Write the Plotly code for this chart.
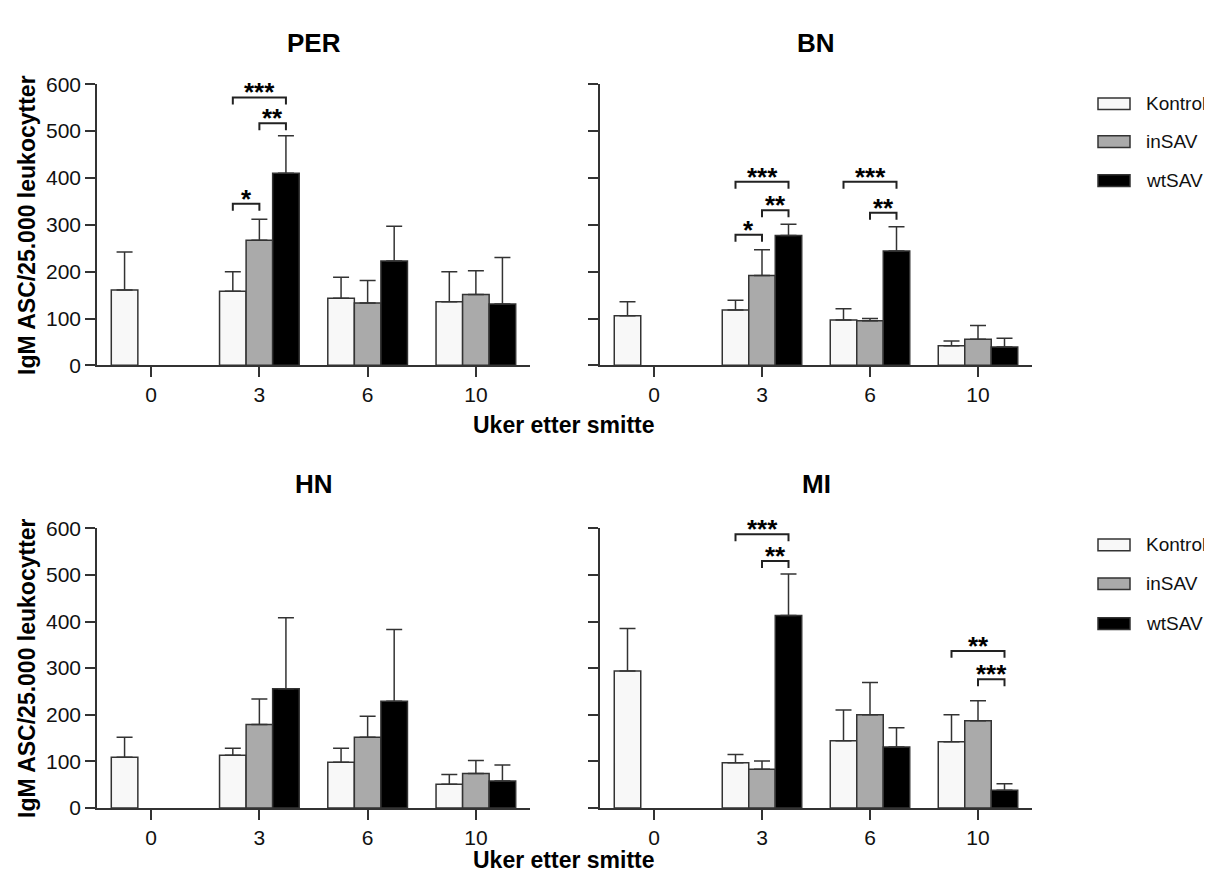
import plotly.graph_objects as go
from plotly.subplots import make_subplots

weeks = ["0", "3", "6", "10"]
groups = ["Kontroll", "inSAV", "wtSAV"]

PER_kontroll = [161, 158, 143, 136]
PER_kontroll_sem = [81, 42, 45, 64]
PER_insav = [None, 267, 133, 151]
PER_insav_sem = [None, 45, 48, 51]
PER_wtsav = [None, 410, 223, 131]
PER_wtsav_sem = [None, 80, 74, 99]

BN_kontroll = [106, 118, 97, 42]
BN_kontroll_sem = [30, 21, 24, 10]
BN_insav = [None, 192, 95, 56]
BN_insav_sem = [None, 55, 5, 29]
BN_wtsav = [None, 277, 244, 39]
BN_wtsav_sem = [None, 24, 52, 19]

HN_kontroll = [109, 113, 98, 51]
HN_kontroll_sem = [43, 15, 30, 21]
HN_insav = [None, 179, 152, 74]
HN_insav_sem = [None, 55, 45, 28]
HN_wtsav = [None, 256, 229, 58]
HN_wtsav_sem = [None, 152, 154, 34]

MI_kontroll = [294, 97, 144, 142]
MI_kontroll_sem = [91, 18, 66, 58]
MI_insav = [None, 83, 200, 187]
MI_insav_sem = [None, 18, 69, 43]
MI_wtsav = [None, 413, 131, 38]
MI_wtsav_sem = [None, 89, 41, 14]

# significance brackets: (week index, from group, to group, y level, label)
PER_sig = [(1, 0, 2, 572, "***"), (1, 1, 2, 517, "**"), (1, 0, 1, 345, "*")]
BN_sig = [(1, 0, 2, 392, "***"), (1, 1, 2, 331, "**"), (1, 0, 1, 279, "*"),
          (2, 0, 2, 392, "***"), (2, 1, 2, 326, "**")]
HN_sig = []
MI_sig = [(1, 0, 2, 587, "***"), (1, 1, 2, 530, "**"),
          (3, 0, 2, 337, "**"), (3, 1, 2, 276, "***")]

panels = [
    ("PER", 1, 1, [PER_kontroll, PER_insav, PER_wtsav],
     [PER_kontroll_sem, PER_insav_sem, PER_wtsav_sem], PER_sig),
    ("BN", 1, 2, [BN_kontroll, BN_insav, BN_wtsav],
     [BN_kontroll_sem, BN_insav_sem, BN_wtsav_sem], BN_sig),
    ("HN", 2, 1, [HN_kontroll, HN_insav, HN_wtsav],
     [HN_kontroll_sem, HN_insav_sem, HN_wtsav_sem], HN_sig),
    ("MI", 2, 2, [MI_kontroll, MI_insav, MI_wtsav],
     [MI_kontroll_sem, MI_insav_sem, MI_wtsav_sem], MI_sig),
]

fills = ["#F8F8F8", "#AAAAAA", "#000000"]
edge = "#333333"
FONT = "Arial, Liberation Sans, Helvetica, sans-serif"

# page body has an 8px margin: lay out in page pixels, offset by 8
OFF = 8
W, H = 1212 - OFF, 882 - OFF


def px(X):
    return (X - OFF) / W


def py(Y):
    return 1 - (Y - OFF) / H


bargap = 0.264
bw = (1 - bargap) / 3

fig = make_subplots(rows=2, cols=2)

xdom = {1: [px(97), px(530)], 2: [px(600), px(1032)]}
ydom = {1: [py(362.7), py(74)], 2: [py(817.3), py(530)]}
xcent = {1: (97 + 530) / 2, 2: (600 + 1032) / 2}

annotations = []
shapes = []
for name, r, c, vals, sems, sig in panels:
    for g in range(3):
        fig.add_trace(go.Bar(
            x=weeks, y=vals[g], name=groups[g], showlegend=False,
            marker=dict(color=fills[g], line=dict(color=edge, width=1.5)),
            error_y=dict(type="data", symmetric=False, array=sems[g],
                         arrayminus=[0 if v is not None else None for v in sems[g]],
                         color=edge, thickness=1.5, width=8),
        ), row=r, col=c)
    idx = (r - 1) * 2 + c
    xa = "x" if idx == 1 else f"x{idx}"
    ya = "y" if idx == 1 else f"y{idx}"
    annotations.append(dict(
        text=f"<b>{name}</b>", xref="paper", yref="paper",
        x=px(xcent[c]), y=py(32 if r == 1 else 485),
        xanchor="center", yanchor="middle", showarrow=False,
        font=dict(family=FONT, size=26, color="#000")))
    for (wk, g1, g2, yl, lab) in sig:
        x1 = wk + (g1 - 1) * bw
        x2 = wk + (g2 - 1) * bw
        leg = 15
        shapes.append(dict(type="path", xref=xa, yref=ya,
                           path=f"M {x1},{yl-leg} L {x1},{yl} L {x2},{yl} L {x2},{yl-leg}",
                           line=dict(color="#222", width=2)))
        annotations.append(dict(
            text=f"<b>{lab}</b>", xref=xa, yref=ya, x=(x1 + x2) / 2, y=yl,
            xanchor="center", yanchor="middle", yshift=5, showarrow=False,
            font=dict(family=FONT, size=26, color="#000")))

for r in (1, 2):
    for c in (1, 2):
        fig.update_xaxes(
            type="category", range=[-0.5, 3.5], domain=xdom[c],
            showline=True, linecolor=edge, linewidth=1.5,
            ticks="outside", ticklen=10, tickwidth=1.5, tickcolor=edge,
            showgrid=False, zeroline=False,
            tickfont=dict(family=FONT, size=21, color="#111"),
            row=r, col=c)
        fig.update_yaxes(
            range=[0, 600], dtick=100, domain=ydom[r],
            showline=True, linecolor=edge, linewidth=1.5,
            ticks="outside", ticklen=10, tickwidth=1.5, tickcolor=edge,
            showgrid=False, zeroline=False, showticklabels=(c == 1),
            tickfont=dict(family=FONT, size=21, color="#111"),
            row=r, col=c)

# axis titles
for yc, xt in ((218.5, 424), (673.5, 871)):
    annotations.append(dict(
        text="<b>IgM ASC/25.000 leukocytter</b>", xref="paper", yref="paper",
        x=px(27), y=py(yc), textangle=-90, xanchor="center", yanchor="middle",
        showarrow=False, font=dict(family=FONT, size=23, color="#000")))
    annotations.append(dict(
        text="<b>Uker etter smitte</b>", xref="paper", yref="paper",
        x=px(564), y=py(xt), xanchor="center", yanchor="middle",
        showarrow=False, font=dict(family=FONT, size=23, color="#000")))

# legends (drawn manually)
for ys in ((94, 133, 173), (547, 587, 628)):
    for g in range(3):
        yc = ys[g]
        shapes.append(dict(type="rect", xref="paper", yref="paper",
                           x0=px(1098), x1=px(1130), y0=py(yc + 6), y1=py(yc - 6),
                           fillcolor=fills[g], line=dict(color=edge, width=1.5)))
        annotations.append(dict(
            text=groups[g], xref="paper", yref="paper", x=px(1144), y=py(yc),
            xanchor="left", yanchor="middle", showarrow=False,
            font=dict(family=FONT, size=19, color="#111")))

fig.update_layout(
    width=W, height=H, margin=dict(l=0, r=0, t=0, b=0),
    barmode="group", bargap=bargap, bargroupgap=0,
    plot_bgcolor="white", paper_bgcolor="white",
    annotations=annotations, shapes=shapes,
    showlegend=False,
)

fig.write_html("out.html")
